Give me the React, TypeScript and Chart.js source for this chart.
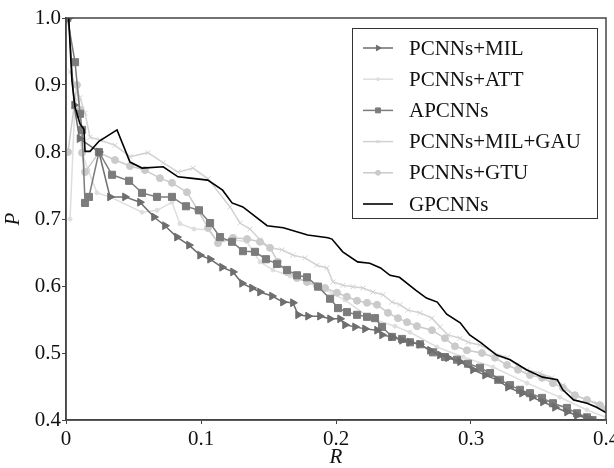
import React, { useEffect, useRef } from "react";
import { Chart, registerables } from "chart.js";
import { drawPoint } from "chart.js/helpers";

Chart.register(...registerables);

const FONT = "'Liberation Serif', 'Times New Roman', serif";

const xTicks = [0, 0.1, 0.2, 0.3, 0.4];
const yTicks = [0.4, 0.5, 0.6, 0.7, 0.8, 0.9, 1.0];
const seriesNames = ["PCNNs+MIL", "PCNNs+ATT", "APCNNs", "PCNNs+MIL+GAU", "PCNNs+GTU", "GPCNNs"];

const milPts: [number, number][] = [
  [0.002, 1.0], [0.006, 0.87], [0.010, 0.82], [0.0244, 0.8], [0.0326, 0.733], [0.0437, 0.733],
  [0.0548, 0.725], [0.0652, 0.703], [0.0733, 0.69], [0.0822, 0.673], [0.0911, 0.661], [0.0993, 0.646],
  [0.1067, 0.64], [0.1156, 0.628], [0.1237, 0.621], [0.1304, 0.604], [0.1378, 0.597], [0.1437, 0.591],
  [0.1526, 0.585], [0.1607, 0.576], [0.1681, 0.575], [0.1719, 0.557], [0.1793, 0.555], [0.1881, 0.555],
  [0.1956, 0.551], [0.203, 0.551], [0.2067, 0.542], [0.2141, 0.539], [0.2215, 0.536], [0.2304, 0.534],
  [0.2341, 0.527], [0.2415, 0.524], [0.2489, 0.519], [0.2548, 0.516], [0.2622, 0.513], [0.2696, 0.504],
  [0.277, 0.497], [0.283, 0.493], [0.2919, 0.487], [0.3015, 0.475], [0.3104, 0.467], [0.3193, 0.46],
  [0.3274, 0.449], [0.3378, 0.44], [0.3452, 0.434], [0.3533, 0.427], [0.3622, 0.419], [0.3711, 0.412],
  [0.3785, 0.407], [0.3859, 0.403], [0.39, 0.4],
];

const attPts: [number, number][] = [
  [0.003, 0.7], [0.0067, 0.878], [0.0096, 0.848], [0.0119, 0.799], [0.0163, 0.773], [0.023, 0.739],
  [0.0326, 0.733], [0.0563, 0.71], [0.0674, 0.713], [0.0785, 0.725], [0.0844, 0.693], [0.0948, 0.685],
  [0.1052, 0.684], [0.1126, 0.666], [0.1237, 0.669], [0.134, 0.666], [0.1437, 0.636], [0.1533, 0.624],
  [0.1659, 0.615], [0.1785, 0.606], [0.1904, 0.596], [0.2067, 0.579], [0.2252, 0.552], [0.2437, 0.54],
  [0.2548, 0.531], [0.2748, 0.509], [0.2941, 0.494], [0.3163, 0.479], [0.3415, 0.455], [0.3659, 0.434],
  [0.3859, 0.415], [0.4, 0.404],
];

const apcnnPts: [number, number][] = [
  [0.001, 1.0], [0.0067, 0.934], [0.0104, 0.857], [0.0119, 0.833], [0.0141, 0.724], [0.017, 0.733],
  [0.0244, 0.8], [0.0341, 0.766], [0.0467, 0.757], [0.0563, 0.739], [0.0674, 0.733], [0.0785, 0.733],
  [0.0889, 0.719], [0.0985, 0.713], [0.1067, 0.694], [0.1141, 0.673], [0.123, 0.666], [0.1311, 0.652],
  [0.14, 0.651], [0.1481, 0.64], [0.1563, 0.633], [0.1637, 0.624], [0.1711, 0.616], [0.1785, 0.613],
  [0.1867, 0.599], [0.1956, 0.581], [0.2015, 0.567], [0.2081, 0.561], [0.2156, 0.557], [0.223, 0.554],
  [0.2289, 0.552], [0.2341, 0.539], [0.2415, 0.524], [0.2489, 0.521], [0.2548, 0.516], [0.2622, 0.513],
  [0.2719, 0.501], [0.2807, 0.494], [0.2896, 0.49], [0.2978, 0.484], [0.3067, 0.478], [0.3141, 0.47],
  [0.3215, 0.46], [0.3289, 0.452], [0.3363, 0.445], [0.3437, 0.44], [0.3526, 0.433], [0.3607, 0.425],
  [0.3711, 0.418], [0.3785, 0.41], [0.3859, 0.404], [0.39, 0.4],
];

const gauPts: [number, number][] = [
  [0.003, 0.92], [0.0067, 0.9], [0.0104, 0.881], [0.0141, 0.858], [0.0178, 0.822], [0.0252, 0.818],
  [0.0363, 0.81], [0.0474, 0.793], [0.0607, 0.799], [0.0719, 0.784], [0.083, 0.77], [0.0941, 0.776],
  [0.1052, 0.76], [0.1215, 0.718], [0.1289, 0.694], [0.1363, 0.685], [0.1437, 0.669], [0.1511, 0.657],
  [0.16, 0.654], [0.1681, 0.646], [0.177, 0.642], [0.1859, 0.631], [0.1933, 0.627], [0.1978, 0.606],
  [0.2052, 0.601], [0.2126, 0.599], [0.22, 0.597], [0.2274, 0.591], [0.2348, 0.587], [0.2415, 0.576],
  [0.2474, 0.572], [0.2533, 0.564], [0.2622, 0.56], [0.2711, 0.552], [0.277, 0.539], [0.283, 0.527],
  [0.2919, 0.522], [0.2978, 0.516], [0.3067, 0.512], [0.3163, 0.501], [0.3267, 0.493], [0.3341, 0.482],
  [0.3415, 0.475], [0.3511, 0.47], [0.36, 0.463], [0.3681, 0.452], [0.377, 0.437], [0.3859, 0.43],
  [0.3933, 0.425], [0.4, 0.418],
];

const gtuPts: [number, number][] = [
  [0.0015, 0.8], [0.0081, 0.9], [0.0104, 0.863], [0.0119, 0.799], [0.0141, 0.77], [0.0244, 0.799],
  [0.0363, 0.788], [0.0474, 0.779], [0.0585, 0.773], [0.0696, 0.761], [0.0785, 0.754], [0.0896, 0.74],
  [0.0978, 0.713], [0.1052, 0.687], [0.1126, 0.664], [0.1237, 0.672], [0.1341, 0.67], [0.1437, 0.666],
  [0.1511, 0.657], [0.157, 0.636], [0.1637, 0.621], [0.1711, 0.612], [0.1785, 0.606], [0.1859, 0.6],
  [0.1919, 0.597], [0.2007, 0.59], [0.2081, 0.584], [0.2156, 0.578], [0.223, 0.575], [0.2304, 0.572],
  [0.2385, 0.56], [0.2459, 0.552], [0.2526, 0.546], [0.26, 0.54], [0.2711, 0.534], [0.2807, 0.522],
  [0.2881, 0.51], [0.297, 0.504], [0.3081, 0.5], [0.3178, 0.493], [0.3267, 0.482], [0.3348, 0.475],
  [0.3437, 0.467], [0.3526, 0.463], [0.3607, 0.455], [0.3681, 0.448], [0.377, 0.437], [0.3859, 0.43],
  [0.3956, 0.422], [0.4, 0.416],
];

const gpcnnPts: [number, number][] = [
  [0.002, 1.0], [0.0044, 0.906], [0.0067, 0.867], [0.0104, 0.842], [0.0133, 0.834], [0.0141, 0.801],
  [0.0178, 0.801], [0.0244, 0.816], [0.0378, 0.833], [0.0474, 0.785], [0.0563, 0.776], [0.072, 0.778],
  [0.083, 0.763], [0.092, 0.761], [0.105, 0.758], [0.116, 0.743], [0.123, 0.724], [0.131, 0.718],
  [0.149, 0.69], [0.161, 0.687], [0.179, 0.676], [0.194, 0.672], [0.197, 0.67], [0.205, 0.651],
  [0.216, 0.636], [0.225, 0.634], [0.233, 0.627], [0.24, 0.616], [0.247, 0.613], [0.259, 0.594],
  [0.267, 0.582], [0.275, 0.576], [0.282, 0.558], [0.292, 0.545], [0.299, 0.527], [0.307, 0.516],
  [0.319, 0.497], [0.329, 0.49], [0.341, 0.475], [0.353, 0.464], [0.364, 0.46], [0.368, 0.445],
  [0.376, 0.43], [0.386, 0.425], [0.393, 0.419], [0.4, 0.411],
];

const styles = [
  { color: "#6e6e6e", pointStyle: "triangle", rotation: 90, radius: 4.5, width: 1.5, order: 1 },
  { color: "#dedede", pointStyle: "circle", rotation: 0, radius: 2, width: 1.5, order: 5 },
  { color: "#7c7c7c", pointStyle: "rect", rotation: 0, radius: 5, width: 1.5, order: 2 },
  { color: "#d2d2d2", pointStyle: "crossRot", rotation: 0, radius: 3.5, width: 1.5, order: 4 },
  { color: "#cacaca", pointStyle: "circle", rotation: 0, radius: 3.5, width: 1.5, order: 3 },
  { color: "#000000", pointStyle: false, rotation: 0, radius: 0, width: 1.6, order: 0 },
];

const allPts = [milPts, attPts, apcnnPts, gauPts, gtuPts, gpcnnPts];

const framePlugin = {
  id: "frameAndLegend",
  afterDraw(chart: any) {
    const { ctx, chartArea } = chart;
    ctx.save();
    ctx.strokeStyle = "#444";
    ctx.lineWidth = 1.5;
    ctx.strokeRect(chartArea.left, chartArea.top, chartArea.right - chartArea.left, chartArea.bottom - chartArea.top);
    const bx = 352, by = 28, bw = 245, bh = 190;
    ctx.fillStyle = "#ffffff";
    ctx.fillRect(bx, by, bw, bh);
    ctx.lineWidth = 1;
    ctx.strokeStyle = "#333";
    ctx.strokeRect(bx + 0.5, by + 0.5, bw, bh);
    ctx.font = `21px ${FONT}`;
    ctx.textBaseline = "middle";
    ctx.textAlign = "left";
    chart.data.datasets.forEach((ds: any, i: number) => {
      const s = styles[i];
      const y = 48 + i * 31.2;
      ctx.strokeStyle = s.color;
      ctx.lineWidth = s.width;
      ctx.beginPath();
      ctx.moveTo(363, y);
      ctx.lineTo(393, y);
      ctx.stroke();
      if (s.pointStyle) {
        ctx.fillStyle = s.color;
        ctx.strokeStyle = s.color;
        ctx.lineWidth = 1;
        drawPoint(ctx, { pointStyle: s.pointStyle, rotation: s.rotation, radius: s.radius * 0.7, borderWidth: 1 }, 378, y);
      }
      ctx.fillStyle = "#111";
      ctx.fillText(ds.label, 409, y + 1);
    });
    ctx.restore();
  },
};

export default function App() {
  const ref = useRef<HTMLCanvasElement | null>(null);
  useEffect(() => {
    if (!ref.current) return;
    const datasets = allPts.map((pts, i) => {
      const s = styles[i];
      return {
        label: seriesNames[i],
        data: pts.map(([x, y]) => ({ x, y })),
        borderColor: s.color,
        backgroundColor: s.color,
        borderWidth: s.width,
        pointStyle: s.pointStyle as any,
        pointRotation: s.rotation,
        pointRadius: s.radius,
        pointBorderWidth: 1,
        pointBorderColor: s.color,
        pointBackgroundColor: s.color,
        tension: 0,
        order: s.order,
      };
    });
    const chart = new Chart(ref.current, {
      type: "line",
      data: { datasets },
      plugins: [framePlugin],
      options: {
        animation: false,
        responsive: false,
        maintainAspectRatio: false,
        layout: { padding: { top: 18, right: 0, left: 0, bottom: 0 } },
        plugins: { legend: { display: false }, tooltip: { enabled: false } },
        scales: {
          x: {
            type: "linear",
            min: 0,
            max: 0.4,
            afterBuildTicks: (scale: any) => {
              scale.ticks = xTicks.map((v) => ({ value: v }));
            },
            afterFit: (scale: any) => {
              scale.height = 48;
              scale.paddingLeft = 0;
              scale.paddingRight = 8;
            },
            ticks: {
              font: { family: FONT, size: 21 },
              color: "#111",
              padding: 3,
              maxRotation: 0,
              autoSkip: false,
              callback: (v: any) => (v === 0 ? "0" : Number(v).toFixed(1)),
            },
            grid: { drawOnChartArea: false, drawTicks: true, tickLength: 4, color: "#444" },
            border: { color: "#444", width: 1.5 },
            title: {
              display: true,
              text: "R",
              font: { family: FONT, size: 21, style: "italic" },
              color: "#111",
              padding: { top: 0, bottom: -2 },
            },
          },
          y: {
            type: "linear",
            min: 0.4,
            max: 1.0,
            afterBuildTicks: (scale: any) => {
              scale.ticks = yTicks.map((v) => ({ value: v }));
            },
            afterFit: (scale: any) => {
              scale.width = 66;
              scale.paddingTop = 0;
              scale.paddingBottom = 0;
            },
            ticks: {
              font: { family: FONT, size: 21 },
              color: "#111",
              padding: 1,
              autoSkip: false,
              callback: (v: any) => Number(v).toFixed(1),
            },
            grid: { drawOnChartArea: false, drawTicks: true, tickLength: 4, color: "#444" },
            border: { color: "#444", width: 1.5 },
            title: {
              display: true,
              text: "P",
              font: { family: FONT, size: 21, style: "italic" },
              color: "#111",
              padding: { top: 1, bottom: 0 },
            },
          },
        },
      },
    });
    return () => chart.destroy();
  }, []);
  return (
    <div style={{ position: "fixed", left: 0, top: 0, width: 614, height: 468, background: "#fff" }}>
      <canvas ref={ref} width={614} height={468} style={{ width: 614, height: 468 }} />
    </div>
  );
}
